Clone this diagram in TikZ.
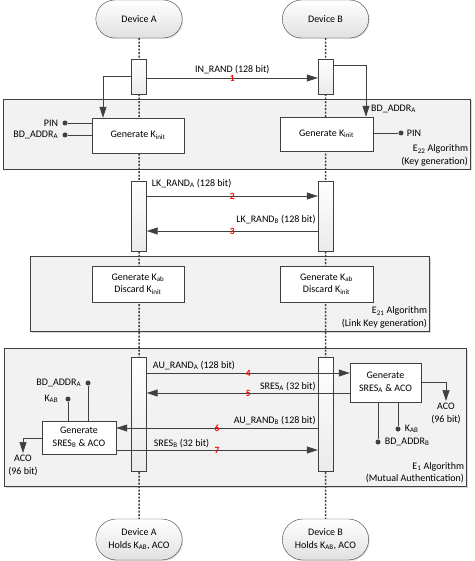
\documentclass[tikz,border=0pt]{standalone}
\usepackage{fontspec}
\setmainfont{Carlito}
\usetikzlibrary{arrows.meta, positioning, calc, shapes.misc, shadows}
\newcommand{\sbs}[1]{\textsubscript{#1}}

\tikzset{
  device/.style={rounded rectangle, draw=black!75, top color=white, bottom color=black!12,
    minimum width=93pt, minimum height=38pt, align=center,
    drop shadow={opacity=.25, shadow xshift=1pt, shadow yshift=-1pt}},
  panel/.style={draw=black!75, fill=black!5,
    drop shadow={opacity=.3, shadow xshift=1.5pt, shadow yshift=-1.5pt}},
  act/.style={draw=black!75, top color=white, bottom color=black!8, minimum width=15pt, inner sep=0pt},
  gen/.style={draw=black!75, fill=white, minimum width=92pt, minimum height=35pt, align=center, inner sep=1pt},
  lifeline/.style={draw=black!75, line width=1.5pt, dash pattern=on 2pt off 1.5pt},
  msg/.style={draw=black!75, line width=.7pt, -{Triangle[length=11pt,width=7pt]}},
  wire/.style={draw=black!75, line width=.7pt},
  dot/.style={circle, fill=black!75, minimum size=5pt, inner sep=0pt},
  num/.style={text=red, font=\fontsize{9.5}{9.5}\selectfont\bfseries, inner sep=0pt},
  lbl/.style={inner sep=1pt, align=center},
}

\begin{document}
\begin{tikzpicture}[x=1pt, y=-1pt, font=\fontsize{10}{12.5}\selectfont]
  \useasboundingbox (0,0) rectangle (474,561);

  % Panels
  \node[panel, minimum width=467pt, minimum height=70pt] (keygen) at (236.5,134) {};
  \node[panel, minimum width=399pt, minimum height=75pt] (linkgen) at (229.5,293.5) {};
  \node[panel, minimum width=462pt, minimum height=138pt] (auth) at (235,417) {};
  \node[lbl, anchor=south east, align=right] at ([xshift=-1pt,yshift=2pt]keygen.south east)
    {E\sbs{22} Algorithm\\(Key generation)};
  \node[lbl, anchor=south east, align=right] at ([xshift=-1pt,yshift=2pt]linkgen.south east)
    {E\sbs{21} Algorithm\\(Link Key generation)};
  \node[lbl, anchor=south east, align=right] at ([xshift=-1pt,yshift=2pt]auth.south east)
    {E\sbs{1} Algorithm\\(Mutual Authentication)};

  % Devices and lifelines
  \node[device] (devA) at (139,19) {Device A};
  \node[device] (devB) at (325.5,19) {Device B};
  \node[device, minimum height=41pt] (endA) at (139,539.5) {Device A\\Holds K\sbs{AB}, ACO};
  \node[device, minimum height=41pt] (endB) at (325.5,539.5) {Device B\\Holds K\sbs{AB}, ACO};
  \draw[lifeline] (devA) -- (endA);
  \draw[lifeline] (devB) -- (endB);

  % Activations
  \node[act, minimum height=35pt] (actA1) at (139,76.5) {};
  \node[act, minimum height=35pt] (actB1) at (325.5,76.5) {};
  \node[act, minimum height=70pt] (actA2) at (139,216) {};
  \node[act, minimum height=70pt] (actB2) at (325.5,216) {};
  \node[act, minimum height=114pt] (actA3) at (139,414) {};
  \node[act, minimum height=114pt] (actB3) at (325.5,414) {};

  % Generate boxes
  \node[gen] (genA1) at (138,135.5) {Generate K\sbs{init}};
  \node[gen, minimum width=93pt, minimum height=34pt] (genB1) at (326.5,134) {Generate K\sbs{init}};
  \node[gen, minimum height=36pt] (genA2) at (138,284) {Generate K\sbs{ab}\\Discard K\sbs{init}};
  \node[gen, minimum width=93pt, minimum height=36pt] (genB2) at (326.5,284) {Generate K\sbs{ab}\\Discard K\sbs{init}};
  \node[gen, minimum width=71pt, minimum height=39pt] (sresA) at (385.5,382.5) {Generate\\SRES\sbs{A} \& ACO};
  \node[gen, minimum width=74pt, minimum height=33pt] (sresB) at (79,437.5) {Generate\\SRES\sbs{B} \& ACO};

  % Key generation inputs
  \draw[msg] (actA1.west |- 0,76) -| ([xshift=-35pt]genA1.north);
  \draw[msg] (actB1.east |- 0,65) -| ([xshift=39.5pt]genB1.north);
  \node[lbl, anchor=west] at (370,109) {BD\_ADDR\sbs{A}};
  \node[dot] (pinA) at (65,123) {};
  \node[dot] (bdA1) at (65,135) {};
  \node[dot] (pinB) at (401,133) {};
  \node[lbl, left=3pt of pinA] {PIN};
  \node[lbl, left=3pt of bdA1] {BD\_ADDR\sbs{A}};
  \node[lbl, right=2pt of pinB] {PIN};
  \draw[wire] (pinA) -- (pinA -| genA1.west);
  \draw[wire] (bdA1) -- (bdA1 -| genA1.west);
  \draw[wire] (genB1.east |- pinB) -- (pinB);

  % Messages 1-3
  \draw[msg] (actA1.east |- 0,78) -- node[lbl, above=3pt] {IN\_RAND (128 bit)} node[num] {1} (actB1.west |- 0,78);
  \draw[msg] (actA2.east |- 0,196) -- node[num] {2} (actB2.west |- 0,196);
  \node[lbl, anchor=base west] at ([xshift=4pt]actA2.east |- 0,186) {LK\_RAND\sbs{A} (128 bit)};
  \draw[msg] (actB2.west |- 0,231) -- node[num] {3} (actA2.east |- 0,231);
  \node[lbl, anchor=base east] at ([xshift=-1pt]actB2.west |- 0,222) {LK\_RAND\sbs{B} (128 bit)};

  % Messages 4-7
  \draw[msg] (actA3.east |- 0,373) -- node[num] {4} (sresA.west |- 0,373);
  \node[lbl, anchor=base west] at ([xshift=5pt]actA3.east |- 0,368) {AU\_RAND\sbs{A} (128 bit)};
  \draw[msg] (sresA.west |- 0,393) -- node[num] {5} (actA3.east |- 0,393);
  \node[lbl, anchor=base east] at ([xshift=-1pt]actB3.west |- 0,389) {SRES\sbs{A} (32 bit)};
  \draw[msg] (actB3.west |- 0,428) -- node[num] {6} (sresB.east |- 0,428);
  \node[lbl, anchor=base east] at ([xshift=-1pt]actB3.west |- 0,423) {AU\_RAND\sbs{B} (128 bit)};
  \draw[msg] (sresB.east |- 0,450) -- node[num] {7} (actB3.west |- 0,450);
  \node[lbl, anchor=base west] at ([xshift=6pt]actA3.east |- 0,446) {SRES\sbs{B} (32 bit)};

  % Authentication inputs and outputs
  \node[dot] (bdA3) at (88,383) {};
  \node[dot] (kabA) at (68,399) {};
  \node[lbl, left=3pt of bdA3] {BD\_ADDR\sbs{A}};
  \node[lbl, left=6pt of kabA] {K\sbs{AB}};
  \draw[wire] (bdA3) -- (bdA3 |- sresB.north);
  \draw[wire] (kabA) -- (kabA |- sresB.north);
  \node[dot] (kabB) at (398,429) {};
  \node[dot] (bdB3) at (378,442) {};
  \node[lbl, right=3pt of kabB] {K\sbs{AB}};
  \node[lbl, right=3pt of bdB3] {BD\_ADDR\sbs{B}};
  \draw[wire] (kabB) -- (kabB |- sresA.south);
  \draw[wire] (bdB3) -- (bdB3 |- sresA.south);
  \coordinate (acoA) at (23,453);
  \coordinate (acoB) at (446,401);
  \draw[msg] (sresB.west |- 0,438) -| (acoA);
  \draw[msg] (sresA.east |- 0,382) -| (acoB);
  \node[lbl, below=1pt of acoA] {ACO\\(96 bit)};
  \node[lbl, below=1pt of acoB] {ACO\\(96 bit)};
\end{tikzpicture}
\end{document}
